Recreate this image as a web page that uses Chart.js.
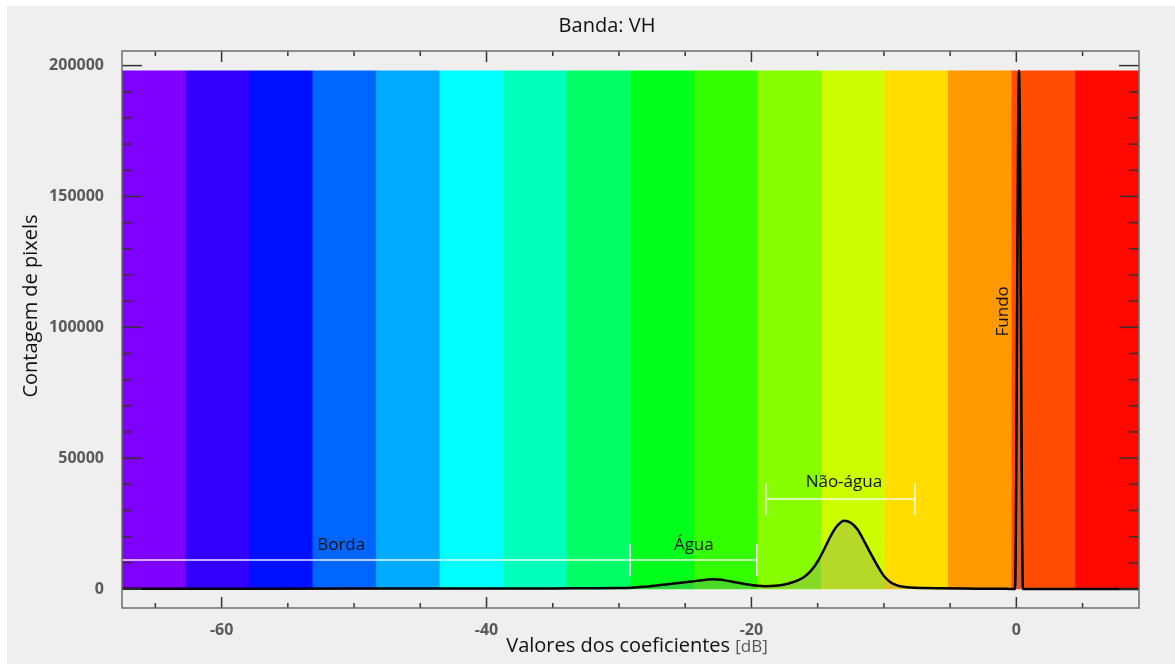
<!DOCTYPE html>
<html>
<head>
<meta charset="utf-8">
<script src="https://cdn.jsdelivr.net/npm/chart.js@4.4.0/dist/chart.umd.min.js"></script>
<style>
  html, body { margin: 0; padding: 0; background: #fff; }
  #wrap { position: absolute; left: 7px; top: 6px; width: 1168px; height: 658px; background: #efefef; }
</style>
</head>
<body>
<div id="wrap"><canvas id="histChart" width="1168" height="658"></canvas></div>
<script>
// faixas de cor (centro de cada faixa em dB)
const bandCenters = [-65.12, -60.32, -55.52, -50.72, -45.92, -41.12, -36.33, -31.53,
                     -26.73, -21.93, -17.13, -12.33, -7.54, -2.74, 2.06, 6.86];
const bandColors = ['#7f00ff', '#3300ff', '#0011ff', '#0066ff', '#00aaff', '#00ffff', '#00ffbb', '#00ff66',
                    '#00ff1a', '#33ff00', '#88ff00', '#ccff00', '#ffdd00', '#ff9900', '#ff4c00', '#ff0800'];
const bandTop = 198000;

// histograma da banda VH
const curveX = [-67.5, -60, -50, -45, -40, -35, -32, -30, -29, -28, -27, -26, -25, -24, -23, -22.5,
                -22, -21.5, -21, -20.5, -20, -19.5, -19, -18.5, -18, -17.5, -17, -16.5, -16, -15.5,
                -15, -14.5, -14, -13.5, -13, -12.5, -12, -11.5, -11, -10.5, -10, -9.5, -9, -8.5,
                -8, -7, -6, -4, -2, -0.8, -0.1, 0.2, 0.5, 2, 9.3];
const curveY = [50, 80, 150, 150, 150, 200, 300, 350, 500, 900, 1400, 2000, 2600, 3200, 3700, 3600,
                3300, 2850, 2400, 1900, 1500, 1200, 1050, 1100, 1300, 1700, 2400, 3300, 4700, 7000,
                10500, 15300, 20400, 24300, 26100, 25300, 22800, 18400, 13600, 9000, 5000, 2600, 1400, 850,
                560, 380, 280, 150, 100, 50, 0, 198000, 0, 0, 0];

// eixos
const xMin = -67.52, xMax = 9.26;
const yMin = -7260, yMax = 205580;
const xTicks = [-60, -40, -20, 0];
const xMinorTicks = [-65, -55, -50, -45, -35, -30, -25, -15, -10, -5, 5];
const yTicks = [0, 50000, 100000, 150000, 200000];
const yMinorTicks = [10000, 20000, 30000, 40000, 60000, 70000, 80000, 90000, 110000, 120000,
                     130000, 140000, 160000, 170000, 180000, 190000];

// intervalos anotados
const rangeNames = ['Borda', 'Água', 'Não-água'];
const rangeStart = [-67.52, -29.17, -18.9];
const rangeEnd = [-29.17, -19.6, -7.65];
const rangeLevel = [11080, 11080, 34390];
const rangeLabelX = [-50.97, -24.35, -13.02];
const rangeLabelY = [14890, 14890, 38930];
const fundoLabel = { text: 'Fundo', x: -1.0, y: 106100 };

const rangeDatasets = rangeNames.map((n, i) => ({
    type: 'line',
    label: n,
    data: [{ x: rangeStart[i], y: rangeLevel[i] }, { x: rangeEnd[i], y: rangeLevel[i] }],
    borderColor: 'rgba(255,255,255,0.9)',
    borderWidth: 1.5,
    pointStyle: 'line',
    pointRotation: 90,
    pointRadius: i === 0 ? [0, 16] : 16,
    pointBorderColor: 'rgba(255,255,255,0.9)',
    pointBorderWidth: 1.5,
    fill: false,
    order: 0
}));

const frameTicks = {
    id: 'frameTicks',
    afterDatasetsDraw(chart) {
        const { ctx, chartArea: a, scales: { x, y } } = chart;
        ctx.save();
        ctx.strokeStyle = '#333';
        ctx.lineWidth = 1.5;
        const seg = (x1, y1, x2, y2) => { ctx.beginPath(); ctx.moveTo(x1, y1); ctx.lineTo(x2, y2); ctx.stroke(); };
        xTicks.forEach(v => { const p = x.getPixelForValue(v); seg(p, a.bottom, p, a.bottom - 11); seg(p, a.top, p, a.top + 11); });
        xMinorTicks.forEach(v => { const p = x.getPixelForValue(v); seg(p, a.bottom, p, a.bottom - 5); seg(p, a.top, p, a.top + 5); });
        yTicks.forEach(v => { const p = y.getPixelForValue(v); seg(a.left, p, a.left + 20, p); seg(a.right, p, a.right - 20, p); });
        yMinorTicks.forEach(v => { const p = y.getPixelForValue(v); seg(a.left, p, a.left + 10, p); seg(a.right, p, a.right - 10, p); });
        ctx.strokeStyle = '#6d6d6d';
        ctx.strokeRect(a.left, a.top, a.width, a.height);

        // rótulos dos intervalos
        ctx.fillStyle = '#111';
        ctx.font = '17px "Open Sans"';
        ctx.textAlign = 'center';
        ctx.textBaseline = 'alphabetic';
        rangeNames.forEach((n, i) => ctx.fillText(n, x.getPixelForValue(rangeLabelX[i]), y.getPixelForValue(rangeLabelY[i])));
        ctx.save();
        ctx.translate(x.getPixelForValue(fundoLabel.x), y.getPixelForValue(fundoLabel.y));
        ctx.rotate(-Math.PI / 2);
        ctx.textBaseline = 'middle';
        ctx.fillText(fundoLabel.text, 0, 0);
        ctx.restore();
        ctx.restore();
    },
    afterDraw(chart) {
        const { ctx } = chart;
        ctx.save();
        ctx.fillStyle = '#111';
        ctx.textBaseline = 'alphabetic';
        ctx.textAlign = 'center';
        ctx.font = '20px "Open Sans"';
        ctx.fillText('Banda: VH', 600, 26);

        // título do eixo y
        ctx.save();
        ctx.translate(29.5, 300);
        ctx.rotate(-Math.PI / 2);
        ctx.fillText('Contagem de pixels', 0, 0);
        ctx.restore();

        // título do eixo x
        ctx.textAlign = 'left';
        const t1 = 'Valores dos coeficientes ', t2 = '[dB]';
        ctx.font = '20px "Open Sans"';
        const w1 = ctx.measureText(t1).width;
        ctx.font = '17px "Open Sans"';
        const w2 = ctx.measureText(t2).width;
        const x0 = 630 - (w1 + w2) / 2;
        ctx.font = '20px "Open Sans"';
        ctx.fillText(t1, x0, 646);
        ctx.font = '17px "Open Sans"';
        ctx.fillStyle = '#555';
        ctx.fillText(t2, x0 + w1, 646);
        ctx.restore();
    }
};

const tickFont = { family: 'Open Sans', size: 16, weight: 'bold' };

new Chart(document.getElementById('histChart'), {
    type: 'line',
    data: {
        datasets: [
            ...rangeDatasets,
            {
                type: 'line',
                label: 'VH',
                data: curveX.map((v, i) => ({ x: v, y: curveY[i] })),
                borderColor: '#000',
                borderWidth: 2.5,
                backgroundColor: 'rgba(130,130,125,0.3)',
                fill: 'origin',
                pointRadius: 0,
                cubicInterpolationMode: 'monotone',
                order: 1
            },
            {
                type: 'bar',
                label: 'faixas',
                data: bandCenters.map(v => ({ x: v, y: bandTop })),
                backgroundColor: bandColors,
                borderWidth: 0,
                barPercentage: 1,
                categoryPercentage: 1,
                order: 2
            }
        ]
    },
    options: {
        responsive: false,
        animation: false,
        devicePixelRatio: 1,
        events: [],
        layout: { padding: { top: 45, right: 36, bottom: 0, left: 0 } },
        plugins: { legend: { display: false }, tooltip: { enabled: false }, title: { display: false } },
        scales: {
            x: {
                type: 'linear',
                min: xMin,
                max: xMax,
                offset: false,
                grid: { display: false },
                border: { display: false },
                afterBuildTicks: s => { s.ticks = xTicks.map(v => ({ value: v })); },
                afterFit: s => { s.height = 56; },
                ticks: { font: tickFont, color: '#5a5a5a', padding: 5, maxRotation: 0, callback: v => String(v) }
            },
            y: {
                type: 'linear',
                min: yMin,
                max: yMax,
                grid: { display: false },
                border: { display: false },
                afterBuildTicks: s => { s.ticks = yTicks.map(v => ({ value: v })); },
                afterFit: s => { s.width = 115; },
                ticks: { font: tickFont, color: '#5a5a5a', padding: 10, callback: v => String(v) }
            }
        }
    },
    plugins: [frameTicks]
});
</script>
</body>
</html>
